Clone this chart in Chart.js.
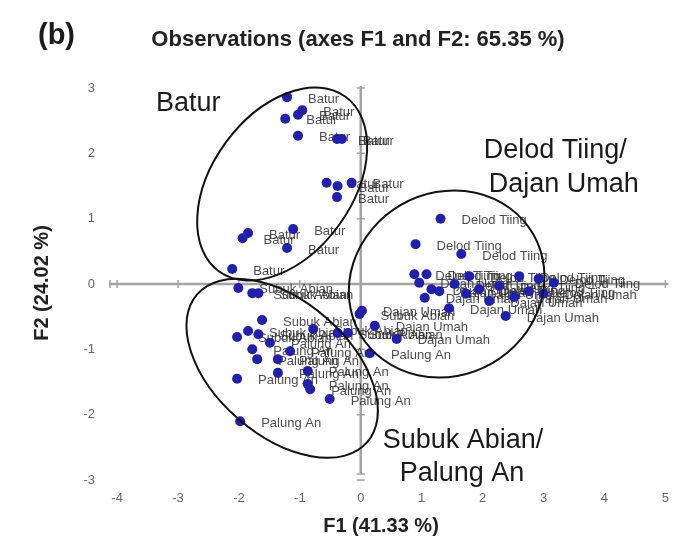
<!DOCTYPE html>
<html>
<head>
<meta charset="utf-8">
<script src="https://cdn.jsdelivr.net/npm/chart.js@4.4.1/dist/chart.umd.min.js"></script>
<style>
  html, body { margin: 0; padding: 0; background: #fff; }
  canvas { display: block; }
</style>
</head>
<body>
<canvas id="c" width="680" height="545"></canvas>
<script>
// Axis ticks
const xTicks = [-4, -3, -2, -1, 0, 1, 2, 3, 4, 5];
const yTicks = [-3, -2, -1, 0, 1, 2, 3];

// Observation scores on F1 / F2, one pair of arrays per village
const baturF1 = [-1.21, -0.96, -1.03, -1.24, -1.03, -0.39, -0.31, -0.56, -0.38, -0.15, -0.39, -1.94, -1.85, -1.11, -1.21, -2.11];
const baturF2 = [ 2.86,  2.66,  2.59,  2.53,  2.27,  2.22,  2.22,  1.55,  1.50,  1.55,  1.33,  0.70,  0.78,  0.84,  0.55,  0.23];

const delodF1 = [1.31, 0.90, 1.65, 0.88, 1.08, 1.78, 2.60, 2.92, 3.17, 2.27, 1.94, 2.76, 1.54];
const delodF2 = [1.00, 0.61, 0.46, 0.15, 0.15, 0.12, 0.12, 0.08, 0.02, -0.03, -0.08, -0.11, 0.00];

const dajanF1 = [0.96, 1.16, 1.05, 1.29, 1.45, 1.73, 2.38, 0.59, 0.02, 0.23, 2.11, 2.52, 3.00];
const dajanF2 = [0.02, -0.08, -0.21, -0.11, -0.37, -0.15, -0.49, -0.84, -0.41, -0.64, -0.26, -0.20, -0.15];

const subukF1 = [-2.01, -1.78, -1.68, -1.62, -2.03, -1.85, -1.68, -0.78, -0.38, -0.21, -0.02];
const subukF2 = [-0.06, -0.14, -0.14, -0.55, -0.81, -0.72, -0.77, -0.69, -0.75, -0.75, -0.46];

const palungF1 = [-1.49, -1.78, -1.70, -1.36, -1.36, -2.03, -0.87, -0.87, -0.83, -0.51, -1.98, 0.15, -1.16];
const palungF2 = [-0.90, -1.00, -1.15, -1.15, -1.36, -1.45, -1.33, -1.53, -1.61, -1.76, -2.10, -1.06, -1.03];

const groupNames = ['Batur', 'Delod Tiing', 'Dajan Umah', 'Subuk Abian', 'Palung An'];
const groupF1 = [baturF1, delodF1, dajanF1, subukF1, palungF1];
const groupF2 = [baturF2, delodF2, dajanF2, subukF2, palungF2];

// Cluster outlines (centre and semi-axes in F1 units, tilt in degrees)
const clusters = [
  { cx: -1.29, cy: 1.53, rx: 1.77, ry: 1.15, tilt: 54 },
  { cx: 1.41, cy: 0.0, rx: 1.64, ry: 1.50, tilt: 30 },
  { cx: -1.29, cy: -1.29, rx: 1.85, ry: 1.10, tilt: -41 }
];

// Cluster captions, anchored at their left edge
const clusterCaptions = [
  { text: 'Batur', x: -3.36, y: 2.76 },
  { text: 'Delod Tiing/', x: 2.02, y: 2.04 },
  { text: 'Dajan Umah', x: 2.10, y: 1.52 },
  { text: 'Subuk Abian/', x: 0.36, y: -2.40 },
  { text: 'Palung An', x: 0.64, y: -2.90 }
];

const TITLE = 'Observations (axes F1 and F2: 65.35 %)';
const X_TITLE = 'F1 (41.33 %)';
const Y_TITLE = 'F2 (24.02 %)';

const FONT = "'Liberation Sans', Arial, sans-serif";
Chart.defaults.font.family = FONT;

const datasets = groupNames.map((name, g) => ({
  label: name,
  data: groupF1[g].map((v, i) => ({ x: v, y: groupF2[g][i] })),
  backgroundColor: '#2020aa',
  borderWidth: 0,
  pointRadius: 5,
  pointHoverRadius: 5
}));

// Grey cross through the origin with small tick marks
const crossAxes = {
  id: 'crossAxes',
  beforeDatasetsDraw(chart) {
    const { ctx, scales: { x, y } } = chart;
    const x0 = x.getPixelForValue(0), y0 = y.getPixelForValue(0);
    ctx.save();
    ctx.strokeStyle = '#a3a3a3';
    ctx.lineWidth = 2.5;
    ctx.beginPath();
    ctx.moveTo(x.left - 2, y0); ctx.lineTo(x.right, y0);
    ctx.moveTo(x0, y.top - 2); ctx.lineTo(x0, y.bottom - 6);
    ctx.stroke();
    ctx.lineWidth = 1.5;
    ctx.beginPath();
    xTicks.forEach(t => { const p = x.getPixelForValue(t); ctx.moveTo(p, y0 - 4); ctx.lineTo(p, y0 + 4); });
    ctx.moveTo(x.left - 1, y0 - 4); ctx.lineTo(x.left - 1, y0 + 4);
    yTicks.forEach(t => { const p = y.getPixelForValue(t); ctx.moveTo(x0 - 4, p); ctx.lineTo(x0 + 4, p); });
    ctx.moveTo(x0 - 4, y.bottom - 6); ctx.lineTo(x0 + 4, y.bottom - 6);
    ctx.stroke();
    ctx.restore();
  }
};

// Village name beside every observation
const pointNames = {
  id: 'pointNames',
  beforeDatasetsDraw(chart) {
    const { ctx } = chart;
    ctx.save();
    ctx.font = '13px ' + FONT;
    ctx.fillStyle = 'rgba(45,45,45,0.85)';
    ctx.textBaseline = 'middle';
    ctx.textAlign = 'left';
    chart.data.datasets.forEach((ds, i) => {
      chart.getDatasetMeta(i).data.forEach(pt => {
        ctx.fillText(ds.label, pt.x + 21, pt.y + 2);
      });
    });
    ctx.restore();
  }
};

// Ellipses around the three clusters, captions, titles and panel tag
const clusterMarks = {
  id: 'clusterMarks',
  afterDatasetsDraw(chart) {
    const { ctx, scales: { x, y } } = chart;
    const unit = x.getPixelForValue(1) - x.getPixelForValue(0);
    ctx.save();
    ctx.strokeStyle = '#111';
    ctx.lineWidth = 2;
    clusters.forEach(c => {
      ctx.beginPath();
      ctx.ellipse(x.getPixelForValue(c.cx), y.getPixelForValue(c.cy),
        c.rx * unit, c.ry * unit, -c.tilt * Math.PI / 180, 0, Math.PI * 2);
      ctx.stroke();
    });
    ctx.fillStyle = '#1a1a1a';
    ctx.font = '27px ' + FONT;
    ctx.textBaseline = 'middle';
    ctx.textAlign = 'left';
    clusterCaptions.forEach(c => {
      ctx.fillText(c.text, x.getPixelForValue(c.x), y.getPixelForValue(c.y));
    });
    ctx.font = 'bold 29px ' + FONT;
    ctx.fillText('(b)', 38, 36);

    ctx.fillStyle = '#222';
    ctx.textAlign = 'center';
    ctx.font = 'bold 22px ' + FONT;
    ctx.fillText(TITLE, 358, 40);
    ctx.font = 'bold 20px ' + FONT;
    ctx.fillText(X_TITLE, 381, 526);
    ctx.translate(42, 283);
    ctx.rotate(-Math.PI / 2);
    ctx.fillText(Y_TITLE, 0, 0);
    ctx.restore();
  }
};

new Chart(document.getElementById('c'), {
  type: 'scatter',
  data: { datasets },
  plugins: [crossAxes, pointNames, clusterMarks],
  options: {
    responsive: false,
    animation: false,
    devicePixelRatio: 1,
    layout: { padding: { left: 0, right: 11, top: 88, bottom: 0 } },
    plugins: {
      legend: { display: false },
      tooltip: { enabled: false },
      title: { display: false }
    },
    scales: {
      x: {
        type: 'linear',
        min: -4.1,
        max: 5.05,
        afterBuildTicks: s => { s.ticks = xTicks.map(v => ({ value: v })); },
        afterFit: s => { s.height = 65; },
        grid: { display: false, drawTicks: false },
        border: { display: false },
        ticks: { color: '#666', font: { size: 13 }, padding: 11 }
      },
      y: {
        type: 'linear',
        min: -3,
        max: 3,
        afterBuildTicks: s => { s.ticks = yTicks.map(v => ({ value: v })); },
        afterFit: s => { s.width = 111; },
        grid: { display: false, drawTicks: false },
        border: { display: false },
        ticks: { color: '#666', font: { size: 13 }, padding: 16 }
      }
    }
  }
});
</script>
</body>
</html>
